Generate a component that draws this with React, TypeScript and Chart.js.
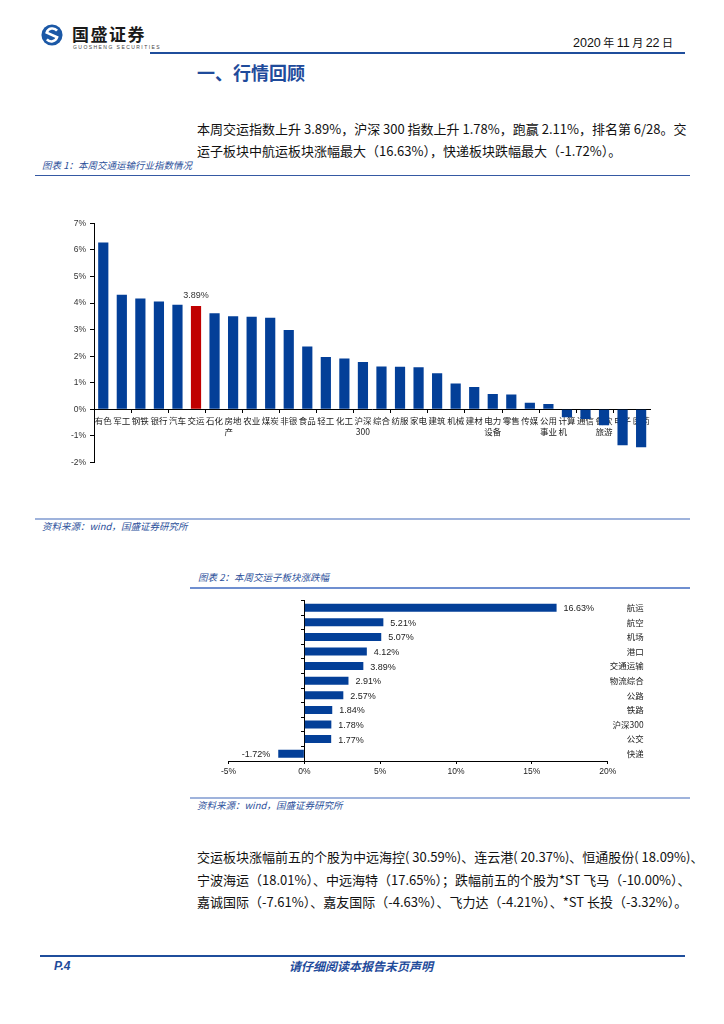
import React, { useEffect, useRef } from 'react';
import { Chart, registerables } from 'chart.js';

Chart.register(...registerables);

// ---------- Chart 1 data: weekly industry index change ----------
const industryNames = [
  '有色', '军工', '钢铁', '银行', '汽车', '交运', '石化', '房地产', '农业', '煤炭',
  '非银', '食品', '轻工', '化工', '沪深300', '综合', '纺服', '家电', '建筑', '机械',
  '建材', '电力设备', '零售', '传媒', '公用事业', '计算机', '通信', '餐饮旅游', '电子', '医药',
];
const industryChanges = [
  6.28, 4.31, 4.17, 4.06, 3.94, 3.89, 3.62, 3.50, 3.48, 3.45,
  2.99, 2.36, 1.97, 1.91, 1.78, 1.61, 1.60, 1.58, 1.36, 0.97,
  0.84, 0.58, 0.56, 0.25, 0.20, -0.30, -0.36, -0.60, -1.35, -1.43,
];
const highlightIndustry = '交运';
const industryAxisMin = -2;
const industryAxisMax = 7;

// ---------- Chart 2 data: transport sub-sector change ----------
const subSectors = ['航运', '航空', '机场', '港口', '交通运输', '物流综合', '公路', '铁路', '沪深300', '公交', '快递'];
const subSectorChanges = [16.63, 5.21, 5.07, 4.12, 3.89, 2.91, 2.57, 1.84, 1.78, 1.77, -1.72];
const subAxisMin = -5;
const subAxisMax = 20;

const BAR_BLUE = '#033f98';
const BAR_RED = '#c00000';
const TEXT_BLUE = '#1f4b9b';
const LATIN = '"Liberation Sans", Arial, "Noto Sans CJK SC", sans-serif';
const CJK = '"Noto Sans CJK SC", "Liberation Sans", sans-serif';

function wrapLabel(s: string): string | string[] {
  if (s.length <= 2) return s;
  const head = s.slice(0, 2);
  let rest = s.slice(2);
  if (rest.length === 1) rest = rest + '\u3000';
  return [head, rest];
}

const highlightLabelPlugin = {
  id: 'highlightLabel',
  afterDatasetsDraw(chart: any) {
    const idx = industryNames.indexOf(highlightIndustry);
    const meta = chart.getDatasetMeta(0);
    const el = meta.data[idx];
    if (!el) return;
    const ctx = chart.ctx;
    ctx.save();
    ctx.font = `9px ${LATIN}`;
    ctx.fillStyle = '#333';
    ctx.textAlign = 'center';
    ctx.textBaseline = 'middle';
    ctx.fillText(industryChanges[idx].toFixed(2) + '%', el.x, el.y - 10);
    ctx.restore();
  },
};

const valueLabelPlugin = {
  id: 'valueLabels',
  afterDatasetsDraw(chart: any) {
    const meta = chart.getDatasetMeta(0);
    const ctx = chart.ctx;
    ctx.save();
    ctx.font = `9px ${LATIN}`;
    ctx.fillStyle = '#222';
    ctx.textBaseline = 'middle';
    meta.data.forEach((el: any, i: number) => {
      const v = subSectorChanges[i];
      const txt = v.toFixed(2) + '%';
      if (v >= 0) {
        ctx.textAlign = 'left';
        ctx.fillText(txt, el.x + 7, el.y + 1);
      } else {
        ctx.textAlign = 'right';
        ctx.fillText(txt, el.x - 8, el.y + 1);
      }
    });
    ctx.restore();
  },
};

function IndustryChart() {
  const ref = useRef<HTMLCanvasElement>(null);
  useEffect(() => {
    const chart = new Chart(ref.current as HTMLCanvasElement, {
      type: 'bar',
      data: {
        labels: industryNames.map(wrapLabel) as any,
        datasets: [
          {
            data: industryChanges,
            backgroundColor: industryNames.map((n) => (n === highlightIndustry ? BAR_RED : BAR_BLUE)),
            barPercentage: 0.55,
            categoryPercentage: 1,
          },
        ],
      },
      options: {
        responsive: false,
        animation: false,
        layout: { padding: { top: 13.3, right: 9.6, bottom: 9.5, left: 0 } },
        plugins: { legend: { display: false }, tooltip: { enabled: false } },
        scales: {
          x: {
            position: { y: 0 } as any,
            offset: true,
            grid: {
              offset: true,
              drawOnChartArea: false,
              drawTicks: true,
              tickLength: 3,
              color: (c: any) => (c.index % 2 === 0 ? '#000' : 'rgba(0,0,0,0)'),
            },
            border: { display: true, color: '#000', width: 1 },
            ticks: {
              autoSkip: false,
              maxRotation: 0,
              minRotation: 0,
              padding: 3,
              color: '#222',
              font: { family: CJK, size: 8.5, lineHeight: 1.3 },
            },
          },
          y: {
            min: industryAxisMin,
            max: industryAxisMax,
            afterFit: (s: any) => {
              s.width = 34;
            },
            grid: { drawOnChartArea: false, drawTicks: true, tickLength: 4, color: '#000' },
            border: { display: true, color: '#000', width: 1 },
            ticks: {
              stepSize: 1,
              padding: 4,
              color: '#333',
              font: { family: LATIN, size: 8.5 },
              callback: (v: any) => v + '%',
            },
          },
        },
      },
      plugins: [highlightLabelPlugin],
    });
    return () => chart.destroy();
  }, []);
  return (
    <canvas
      ref={ref}
      width={600}
      height={262}
      style={{ position: 'absolute', left: 60, top: 210, width: 600, height: 262 }}
    />
  );
}

function SubSectorChart() {
  const ref = useRef<HTMLCanvasElement>(null);
  useEffect(() => {
    const chart = new Chart(ref.current as HTMLCanvasElement, {
      type: 'bar',
      data: {
        labels: subSectors,
        datasets: [
          {
            data: subSectorChanges,
            backgroundColor: BAR_BLUE,
            barPercentage: 0.55,
            categoryPercentage: 1,
            yAxisID: 'y',
          },
        ],
      },
      options: {
        indexAxis: 'y',
        responsive: false,
        animation: false,
        layout: { padding: { top: 10.4, right: 0.3, bottom: 0, left: 28.5 } },
        plugins: { legend: { display: false }, tooltip: { enabled: false } },
        scales: {
          x: {
            type: 'linear',
            position: 'bottom',
            min: subAxisMin,
            max: subAxisMax,
            afterFit: (s: any) => {
              s.height = 16;
            },
            grid: { drawOnChartArea: false, drawTicks: true, tickLength: 3, color: '#000' },
            border: { display: true, color: '#000', width: 1 },
            ticks: {
              stepSize: 5,
              padding: 3,
              color: '#222',
              font: { family: LATIN, size: 8.5 },
              callback: (v: any) => v + '%',
            },
          },
          y: {
            type: 'category',
            position: { x: 0 } as any,
            offset: true,
            grid: { offset: true, drawOnChartArea: false, drawTicks: true, tickLength: 3, color: '#000' },
            border: { display: true, color: '#000', width: 1 },
            ticks: { display: false },
          },
          y2: {
            type: 'category',
            position: 'right',
            offset: true,
            afterFit: (s: any) => {
              s.width = 36;
            },
            grid: { display: false },
            border: { display: false },
            ticks: {
              crossAlign: 'far',
              color: '#222',
              font: { family: CJK, size: 8.5 },
            },
          },
        },
      },
      plugins: [valueLabelPlugin],
    });
    return () => chart.destroy();
  }, []);
  return (
    <canvas
      ref={ref}
      width={444}
      height={187}
      style={{ position: 'absolute', left: 200, top: 590, width: 444, height: 187 }}
    />
  );
}

function Logo() {
  return (
    <svg width={22} height={22} viewBox="0 0 24 24" style={{ position: 'absolute', left: 41, top: 24 }}>
      <circle cx={12} cy={12} r={11.5} fill="#1b58a6" />
      <path
        d="M17.5 7.2 A6.6 6.6 0 0 0 6.2 9.4 L17.6 14.4 A6.6 6.6 0 0 1 6.4 16.8"
        stroke="#fff"
        strokeWidth={2.8}
        fill="none"
      />
    </svg>
  );
}

const abs = (left: number, top: number, extra: React.CSSProperties = {}): React.CSSProperties => ({
  position: 'absolute',
  left,
  top,
  whiteSpace: 'nowrap',
  ...extra,
});

const bodyText: React.CSSProperties = {
  fontFamily: CJK,
  fontSize: 13,
  lineHeight: '22px',
  color: '#111',
};

const justifyLine: React.CSSProperties = {
  width: 488,
  textAlign: 'justify',
  textAlignLast: 'justify' as any,
};

const caption: React.CSSProperties = {
  fontFamily: CJK,
  fontSize: 9.5,
  fontStyle: 'italic',
  color: '#2b4f9a',
  lineHeight: '12px',
};

export default function App() {
  return (
    <div
      style={{
        position: 'absolute',
        left: 0,
        top: 0,
        width: 724,
        height: 1024,
        background: '#fff',
        overflow: 'hidden',
        fontFamily: CJK,
      }}
    >
      <Logo />
      <div style={abs(72, 24, { fontFamily: CJK, fontWeight: 700, fontSize: 17, lineHeight: '20px', color: '#1a1a1a', letterSpacing: 1.5 })}>
        国盛证券
      </div>
      <div style={abs(73, 44, { fontFamily: LATIN, fontSize: 5, lineHeight: '6px', color: '#444', letterSpacing: 1.45 })}>
        GUOSHENG SECURITIES
      </div>
      <div style={abs(573, 34, { fontFamily: LATIN, fontSize: 12.5, lineHeight: '16px', color: '#111' })}>
        2020<span style={{ fontFamily: CJK, fontSize: 11 }}> 年 </span>11<span style={{ fontFamily: CJK, fontSize: 11 }}> 月 </span>22<span style={{ fontFamily: CJK, fontSize: 11 }}> 日</span>
      </div>
      <div style={{ position: 'absolute', left: 150, top: 52, width: 535, height: 1.5, background: '#1f4e9c' }} />

      <div style={abs(197, 61, { fontFamily: CJK, fontWeight: 700, fontSize: 18, lineHeight: '22px', color: TEXT_BLUE })}>
        一、行情回顾
      </div>

      <div style={abs(197, 118, { ...bodyText, ...justifyLine })}>
        本周交运指数上升 3.89%，沪深 300 指数上升 1.78%，跑赢 2.11%，排名第 6/28。交
      </div>
      <div style={abs(197, 140, { ...bodyText })}>
        运子板块中航运板块涨幅最大（16.63%），快递板块跌幅最大（-1.72%）。
      </div>

      <div style={abs(42, 159, caption)}>图表 1：本周交通运输行业指数情况</div>
      <div style={{ position: 'absolute', left: 35, top: 174.5, width: 655, height: 1.5, background: '#3559a3' }} />

      <IndustryChart />

      <div style={{ position: 'absolute', left: 35, top: 517.5, width: 655, height: 2, background: '#9fb3dc' }} />
      <div style={abs(42, 520, caption)}>资料来源：wind，国盛证券研究所</div>

      <div style={abs(198, 571, caption)}>图表 2：本周交运子板块涨跌幅</div>
      <div style={{ position: 'absolute', left: 190, top: 587, width: 500, height: 1.5, background: '#6f8fd0' }} />

      <SubSectorChart />

      <div style={{ position: 'absolute', left: 190, top: 797, width: 500, height: 2, background: '#9fb3dc' }} />
      <div style={abs(197, 799, caption)}>资料来源：wind，国盛证券研究所</div>

      <div style={abs(197, 846, { ...bodyText, ...justifyLine })}>
        交运板块涨幅前五的个股为中远海控( 30.59%)、连云港( 20.37%)、恒通股份( 18.09%)、
      </div>
      <div style={abs(197, 869, { ...bodyText, ...justifyLine })}>
        宁波海运（18.01%）、中远海特（17.65%）；跌幅前五的个股为*ST 飞马（-10.00%）、
      </div>
      <div style={abs(197, 891, { ...bodyText, ...justifyLine })}>
        嘉诚国际（-7.61%）、嘉友国际（-4.63%）、飞力达（-4.21%）、*ST 长投（-3.32%）。
      </div>

      <div style={{ position: 'absolute', left: 40, top: 955, width: 645, height: 2, background: '#1f4e9c' }} />
      <div style={abs(54, 959, { fontFamily: LATIN, fontWeight: 700, fontStyle: 'italic', fontSize: 12, lineHeight: '14px', color: TEXT_BLUE })}>
        P.4
      </div>
      <div style={abs(289, 959, { fontFamily: CJK, fontWeight: 700, fontStyle: 'italic', fontSize: 12, lineHeight: '14px', color: TEXT_BLUE })}>
        请仔细阅读本报告末页声明
      </div>
    </div>
  );
}
